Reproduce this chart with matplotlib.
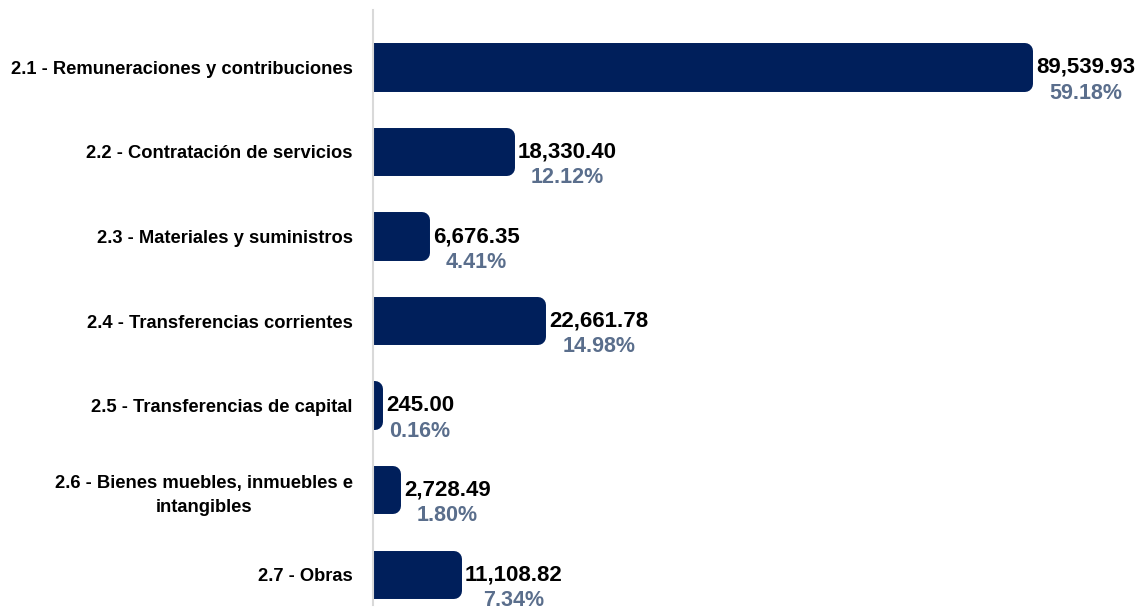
import matplotlib
matplotlib.use("Agg")
import matplotlib.pyplot as plt

categories = [
    "2.1 - Remuneraciones y contribuciones",
    "2.2 - Contratación de servicios",
    "2.3 - Materiales y suministros",
    "2.4 - Transferencias corrientes",
    "2.5 - Transferencias de capital",
    "2.6 - Bienes muebles, inmuebles e\nintangibles",
    "2.7 - Obras",
]
values = [89539.93, 18330.40, 6676.35, 22661.78, 245.00, 2728.49, 11108.82]
percents = [59.18, 12.12, 4.41, 14.98, 0.16, 1.80, 7.34]

bar_color = "#001f5b"
pct_color = "#5a6e8c"
plt.rcParams["font.family"] = ["Liberation Sans", "DejaVu Sans"]
plt.rcParams["font.weight"] = "bold"

fig = plt.figure(figsize=(11.45, 6.07), dpi=100)
ax = fig.add_axes([373 / 1145, 2 / 607, 772 / 1145, 595 / 607])

y = list(range(len(categories)))
# thick round-joined outline gives the rounded ends of the bars
ax.barh(y, values, height=0.38, color=bar_color, edgecolor=bar_color,
        linewidth=11.5, joinstyle="round")

ax.set_xlim(0, 106000)
ax.set_ylim(6.36, -0.68)

for i, (v, p) in enumerate(zip(values, percents)):
    t = ax.annotate(f"{v:,.2f}", xy=(v, i), xytext=(8, 0), textcoords="offset points",
                    ha="left", va="center", fontsize=16, fontweight="bold", color="black")
    ax.annotate(f"{p:.2f}%", xy=(0.5, 0), xycoords=t, xytext=(0, -3.5), textcoords="offset points",
                ha="center", va="top", fontsize=15.5, fontweight="bold", color=pct_color)

ax.set_yticks(y)
ax.set_yticklabels(categories, fontsize=13.2, fontweight="bold", multialignment="center",
                   linespacing=1.55)
ax.tick_params(axis="y", length=0, pad=14.5)
ax.set_xticks([])
for s in ["top", "right", "bottom"]:
    ax.spines[s].set_visible(False)
ax.spines["left"].set_color("#d9d9d9")
ax.spines["left"].set_linewidth(1.5)
ax.spines["left"].set_zorder(3)

fig.savefig("out.png", dpi=100)
